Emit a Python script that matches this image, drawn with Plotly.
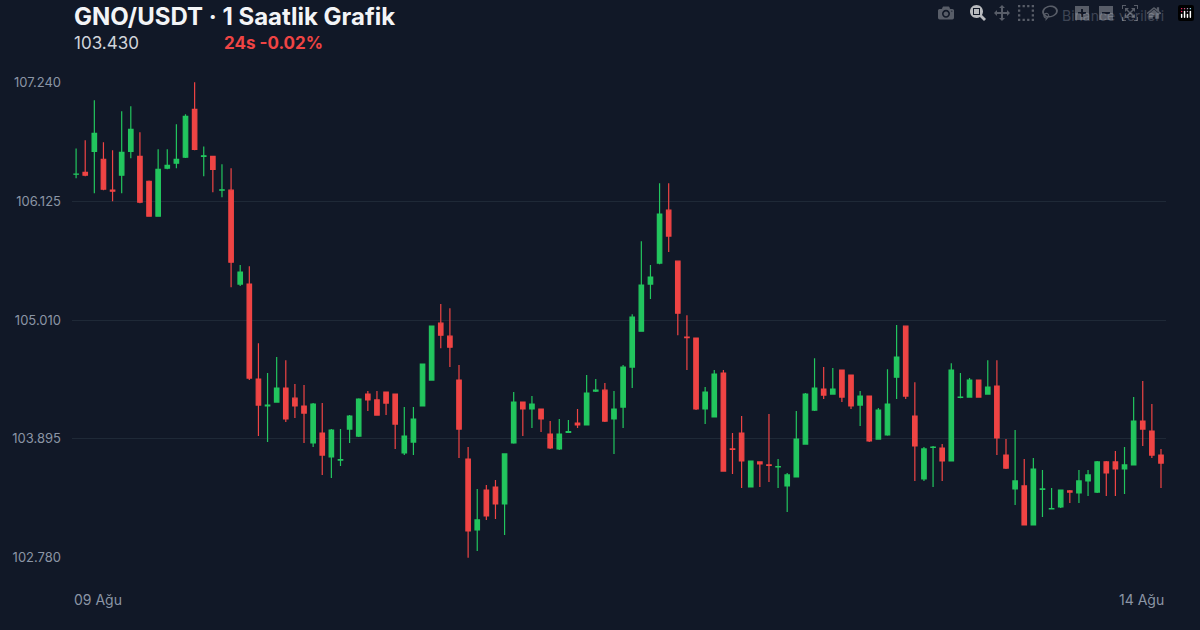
import plotly.graph_objects as go

open_ = [106.378, 106.396, 106.593, 106.518, 106.228, 106.368, 106.593, 106.546, 106.312, 105.984,
         106.434, 106.481, 106.537, 106.987, 106.546, 106.546, 106.228, 106.228, 105.347, 105.347,
         104.456, 104.203, 104.240, 104.371, 104.277, 104.203, 103.856, 103.949, 103.725, 103.696,
         103.987, 103.921, 104.315, 104.260, 104.334, 104.315, 103.762, 103.865, 104.203, 104.446,
         104.980, 104.858, 104.446, 103.706, 103.040, 103.415, 103.443, 103.284, 103.856, 104.240,
         104.175, 104.175, 103.940, 103.800, 103.955, 104.043, 104.025, 104.343, 104.352, 104.081,
         104.193, 104.568, 104.905, 105.347, 105.544, 106.040, 105.562, 104.849, 104.840, 104.175,
         104.100, 104.512, 103.800, 103.949, 103.443, 103.678, 103.650, 103.631, 103.453, 103.537,
         103.846, 104.165, 104.362, 104.315, 104.540, 104.493, 104.212, 104.296, 103.893, 103.931,
         104.474, 104.952, 104.109, 103.518, 103.815, 103.809, 103.687, 104.283, 104.287, 104.446,
         104.315, 104.390, 103.743, 103.425, 103.453, 103.087, 103.420, 103.237, 103.256, 103.406,
         103.387, 103.500, 103.396, 103.678, 103.678, 103.612, 103.650, 104.062, 103.968, 103.743]
high = [106.620, 106.696, 107.071, 106.677, 106.602, 106.968, 107.015, 106.771, 106.320, 106.611,
        106.611, 106.846, 106.940, 107.240, 106.639, 106.550, 106.471, 106.434, 105.525, 105.515,
        104.793, 104.512, 104.662, 104.633, 104.409, 104.399, 104.231, 104.231, 103.987, 103.987,
        104.118, 104.277, 104.343, 104.343, 104.338, 104.320, 104.193, 104.193, 104.596, 104.952,
        105.159, 105.121, 104.587, 103.818, 103.425, 103.462, 103.509, 103.753, 104.334, 104.245,
        104.296, 104.180, 104.062, 104.081, 104.071, 104.175, 104.493, 104.456, 104.418, 104.343,
        104.587, 105.065, 105.750, 105.525, 106.293, 106.293, 105.565, 105.055, 104.845, 104.381,
        104.540, 104.540, 103.949, 104.109, 103.687, 103.680, 104.128, 103.706, 103.575, 104.156,
        104.324, 104.652, 104.568, 104.559, 104.545, 104.498, 104.343, 104.300, 104.184, 104.549,
        104.962, 104.955, 104.427, 103.818, 103.828, 103.846, 104.605, 104.512, 104.465, 104.450,
        104.633, 104.633, 103.893, 103.978, 103.706, 103.716, 103.603, 103.434, 103.415, 103.415,
        103.603, 103.603, 103.687, 103.687, 103.781, 103.818, 104.287, 104.437, 104.221, 103.800]
low = [106.340, 106.359, 106.200, 106.228, 106.125, 106.200, 106.527, 106.106, 105.978, 105.978,
       106.424, 106.434, 106.530, 106.602, 106.359, 106.209, 106.162, 105.318, 105.328, 104.446,
       103.921, 103.865, 104.235, 104.053, 104.090, 103.856, 103.818, 103.556, 103.528, 103.640,
       103.856, 103.912, 104.156, 104.113, 104.118, 103.800, 103.743, 103.743, 104.200, 104.440,
       104.746, 104.568, 103.715, 102.780, 102.843, 103.134, 103.144, 102.993, 103.850, 103.921,
       103.996, 103.959, 103.800, 103.790, 103.950, 103.996, 104.020, 104.334, 104.053, 103.753,
       103.996, 104.371, 104.900, 105.206, 105.534, 105.647, 104.868, 104.540, 104.165, 104.034,
       104.095, 103.593, 103.565, 103.434, 103.440, 103.443, 103.490, 103.434, 103.209, 103.534,
       103.840, 104.156, 104.268, 104.310, 104.240, 104.175, 104.015, 103.865, 103.890, 103.925,
       104.268, 104.268, 103.500, 103.500, 103.443, 103.500, 103.685, 104.277, 104.285, 104.287,
       104.310, 103.743, 103.612, 103.275, 103.087, 103.084, 103.162, 103.235, 103.247, 103.294,
       103.294, 103.359, 103.387, 103.359, 103.359, 103.378, 103.645, 103.828, 103.715, 103.434]
close = [106.380, 106.368, 106.761, 106.237, 106.218, 106.583, 106.799, 106.115, 105.984, 106.424,
         106.462, 106.518, 106.921, 106.611, 106.550, 106.424, 106.232, 105.553, 105.459, 104.465,
         104.212, 104.212, 104.371, 104.081, 104.203, 104.137, 104.221, 103.743, 103.978, 103.700,
         104.109, 104.268, 104.260, 104.118, 104.231, 104.034, 103.921, 104.081, 104.596, 104.952,
         104.868, 104.755, 103.987, 103.031, 103.134, 103.172, 103.284, 103.753, 104.240, 104.175,
         104.221, 104.081, 103.809, 103.940, 103.962, 104.025, 104.324, 104.352, 104.062, 104.175,
         104.568, 105.037, 105.337, 105.412, 106.003, 105.797, 105.074, 104.845, 104.175, 104.334,
         104.502, 103.593, 103.796, 103.687, 103.687, 103.659, 103.646, 103.635, 103.556, 103.893,
         104.315, 104.371, 104.306, 104.362, 104.287, 104.203, 104.296, 103.875, 104.165, 104.221,
         104.662, 104.296, 103.828, 103.800, 103.818, 103.687, 104.540, 104.287, 104.446, 104.287,
         104.381, 103.903, 103.621, 103.500, 103.087, 103.612, 103.425, 103.240, 103.415, 103.396,
         103.500, 103.556, 103.678, 103.575, 103.612, 103.650, 104.062, 103.987, 103.743, 103.668]

y_ticks = [102.780, 103.895, 105.010, 106.125, 107.240]
x_labels = ["09 Ağu", "14 Ağu"]

BG = "#111827"
GRID = "#1f2937"
MUTED = "#8b95a5"

fig = go.Figure(go.Candlestick(
    x=list(range(len(close))), open=open_, high=high, low=low, close=close,
    increasing=dict(line=dict(color="#22c55e", width=1.2), fillcolor="#22c55e"),
    decreasing=dict(line=dict(color="#ef4444", width=1.2), fillcolor="#ef4444"),
    whiskerwidth=0, showlegend=False,
))

fig.update_layout(
    width=1200, height=630,
    paper_bgcolor=BG, plot_bgcolor=BG,
    margin=dict(l=72, r=34, t=82, b=72),
    font=dict(family="Inter, Roboto, sans-serif", color=MUTED, size=13),
    xaxis=dict(range=[-0.45, len(close) - 0.45], showgrid=False, zeroline=False,
               showticklabels=False, rangeslider=dict(visible=False)),
    yaxis=dict(range=[y_ticks[0] - 0.003, y_ticks[-1] + 0.003], tickvals=y_ticks,
               ticktext=[f"{v:.3f}" for v in y_ticks],
               gridcolor=GRID, gridwidth=1, zeroline=False, ticks="",
               ticklabelstandoff=10,
               tickfont=dict(size=13, color=MUTED)),
    annotations=[
        dict(text="<b>GNO/USDT · 1 Saatlik Grafik</b>", xref="paper", yref="paper",
             x=0, y=1, yshift=66, xanchor="left", yanchor="middle", showarrow=False,
             font=dict(size=24, color="#f3f4f6")),
        dict(text="103.430", xref="paper", yref="paper", x=0, y=1, yshift=39,
             xanchor="left", yanchor="middle", showarrow=False,
             font=dict(size=17, color="#d1d5db")),
        dict(text="<b>24s -0.02%</b>", xref="paper", yref="paper", x=0, y=1, yshift=39,
             xshift=150, xanchor="left", yanchor="middle", showarrow=False,
             font=dict(size=17, color="#ef4444")),
        dict(text="Binance verileri", xref="paper", yref="paper", x=1, y=1, yshift=67,
             xanchor="right", yanchor="middle", showarrow=False,
             font=dict(size=14, color="#6b7280")),
        dict(text=x_labels[0], xref="paper", yref="paper", x=0, y=0, yshift=-41,
             xanchor="left", yanchor="middle", showarrow=False,
             font=dict(size=14, color=MUTED)),
        dict(text=x_labels[1], xref="paper", yref="paper", x=1, y=0, yshift=-41,
             xanchor="right", yanchor="middle", showarrow=False,
             font=dict(size=14, color=MUTED)),
    ],
)

# drop the default page margin so the figure fills the window
fig.write_html("out.html", post_script="document.body.style.margin='0';document.body.style.background='#111827';")
